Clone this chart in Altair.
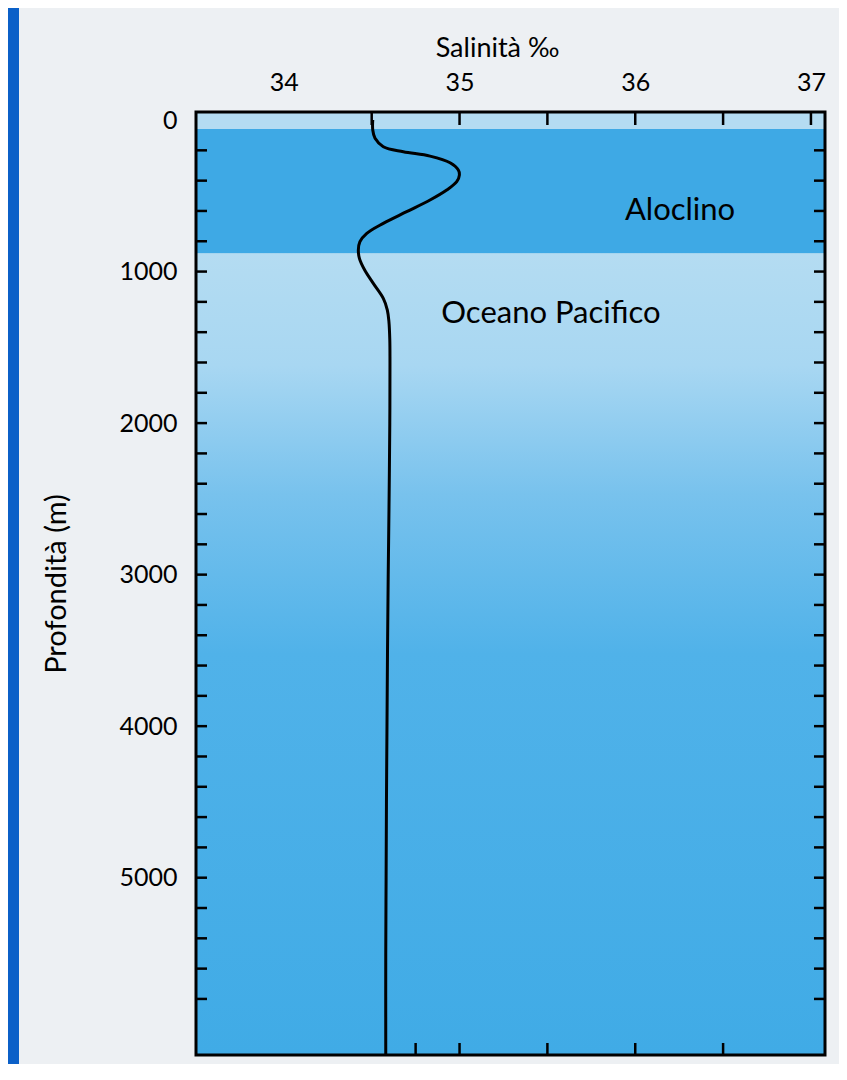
import altair as alt
import pandas as pd

# --- Salinity profile, Pacific Ocean ---
depth_m = [0, 66, 121, 176, 209, 238, 282, 330, 363, 407, 462, 528, 605, 682, 748,
           803, 858, 913, 990, 1078, 1177, 1254, 1330, 1450, 1600, 2000, 2500, 3000,
           3500, 4000, 4500, 5000, 5500, 6170]
salinity = [34.506, 34.506, 34.519, 34.566, 34.68, 34.832, 34.946, 34.993, 34.999,
            34.984, 34.927, 34.832, 34.699, 34.566, 34.472, 34.433, 34.424, 34.43,
            34.46, 34.509, 34.566, 34.589, 34.598, 34.603, 34.604, 34.603, 34.599,
            34.594, 34.59, 34.587, 34.584, 34.582, 34.58, 34.58]

# --- Water layers (depth limits, m) ---
band_name = ["superficie", "aloclino"]
band_top = [-53, 60]
band_bottom = [60, 880]
deep_top = [880]
deep_bottom = [6170]

# --- Axis ticks ---
x_label_values = [34, 35, 36, 37]
y_label_values = [0, 1000, 2000, 3000, 4000, 5000]
top_ticks = [34.5, 35, 35.5, 36, 36.5, 37]
bottom_ticks = [34.75, 35, 35.5, 36, 36.5]
side_ticks = list(range(200, 6000, 200))

# --- Annotations ---
note_text = ["Aloclino", "Oceano Pacifico"]
note_sal = [36.255, 35.52]
note_depth = [660, 1340]

W, H = 629, 943
FONT = "Lato"

X_SC = alt.Scale(domain=[33.5, 37.08], nice=False, zero=False)
Y_SC = alt.Scale(domain=[-53, 6170], reverse=True, nice=False, zero=False)
X_AX = alt.Axis(orient="top", values=x_label_values, title="Salinità ‰", format="d",
                labelFontSize=25, titleFontSize=27, labelPadding=17, titlePadding=8,
                titleX=301, titleAlign="center")
Y_AX = alt.Axis(orient="left", values=y_label_values, title="Profondità (m)", format="d",
                labelFontSize=25, titleFontSize=29, labelPadding=19, titlePadding=47)

profile = pd.DataFrame({"depth": depth_m, "sal": salinity})
bands = pd.DataFrame({"name": band_name, "top": band_top, "bottom": band_bottom})
deep = pd.DataFrame({"top": deep_top, "bottom": deep_bottom})
notes = pd.DataFrame({"text": note_text, "sal": note_sal, "depth": note_depth})
one = pd.DataFrame({"k": [0]})

band_layer = alt.Chart(bands).mark_rect().encode(
    x=alt.value(0), x2=alt.value("width"),
    y=alt.Y("top:Q", scale=Y_SC, axis=Y_AX), y2="bottom:Q",
    color=alt.Color("name:N", legend=None,
                    scale=alt.Scale(domain=band_name, range=["#b4dcf2", "#3ea9e5"])),
)

deep_layer = alt.Chart(deep).mark_rect(
    color=alt.LinearGradient(
        gradient="linear", x1=0, x2=0, y1=0, y2=1,
        stops=[alt.GradientStop(color="#b4dcf2", offset=0),
               alt.GradientStop(color="#a8d7f2", offset=0.14),
               alt.GradientStop(color="#78c2ed", offset=0.3),
               alt.GradientStop(color="#50b2e9", offset=0.5),
               alt.GradientStop(color="#40abe6", offset=1)])
).encode(
    x=alt.value(0), x2=alt.value("width"),
    y=alt.Y("top:Q", scale=Y_SC, axis=Y_AX), y2="bottom:Q",
)

line_layer = alt.Chart(profile).mark_line(
    color="black", strokeWidth=3, interpolate="catmull-rom", clip=True
).encode(
    x=alt.X("sal:Q", scale=X_SC, axis=X_AX),
    y=alt.Y("depth:Q", scale=Y_SC, axis=Y_AX),
    order=alt.Order("depth:Q"),
)

top_tick_layer = alt.Chart(pd.DataFrame({"v": top_ticks})).mark_rule(
    color="black", strokeWidth=2.5
).encode(x=alt.X("v:Q", scale=X_SC, axis=X_AX), y=alt.value(0), y2=alt.value(13))

bottom_tick_layer = alt.Chart(pd.DataFrame({"v": bottom_ticks})).mark_rule(
    color="black", strokeWidth=2.5
).encode(x=alt.X("v:Q", scale=X_SC, axis=X_AX), y=alt.value(H - 12), y2=alt.value(H))

side = pd.DataFrame({"d": side_ticks})
left_tick_layer = alt.Chart(side).mark_rule(color="black", strokeWidth=2.5).encode(
    y=alt.Y("d:Q", scale=Y_SC, axis=Y_AX), x=alt.value(0), x2=alt.value(11))
right_tick_layer = alt.Chart(side).mark_rule(color="black", strokeWidth=2.5).encode(
    y=alt.Y("d:Q", scale=Y_SC, axis=Y_AX), x=alt.value(W - 11), x2=alt.value(W))

notes_layer = alt.Chart(notes).mark_text(
    font=FONT, fontSize=31, align="center", baseline="alphabetic", color="black"
).encode(
    x=alt.X("sal:Q", scale=X_SC, axis=X_AX),
    y=alt.Y("depth:Q", scale=Y_SC, axis=Y_AX),
    text="text:N",
)

frame_layer = alt.Chart(one).mark_rect(filled=False, stroke="black", strokeWidth=3).encode(
    x=alt.value(0), x2=alt.value(W), y=alt.value(0), y2=alt.value(H))

slide_strip = alt.Chart(one).mark_rect(color="#0b60c8").encode(
    x=alt.value(-188), x2=alt.value(-177), y=alt.value(-104), y2=alt.value(H + 9))

chart = alt.layer(
    slide_strip, band_layer, deep_layer, top_tick_layer, bottom_tick_layer,
    left_tick_layer, right_tick_layer, line_layer, notes_layer, frame_layer
).properties(
    width=W, height=H,
    padding={"left": 188, "top": 104, "right": 14, "bottom": 9},
    autosize=alt.AutoSizeParams(type="none"),
    background="#edf0f3",
).configure_view(
    strokeWidth=0
).configure_axis(
    labelFont=FONT, titleFont=FONT, labelColor="black", titleColor="black",
    titleFontWeight="normal", grid=False, ticks=False, domain=False,
    labelFlush=False, labelOverlap=False,
)

chart.save("out.html", embed_options={"renderer": "svg", "actions": False})
